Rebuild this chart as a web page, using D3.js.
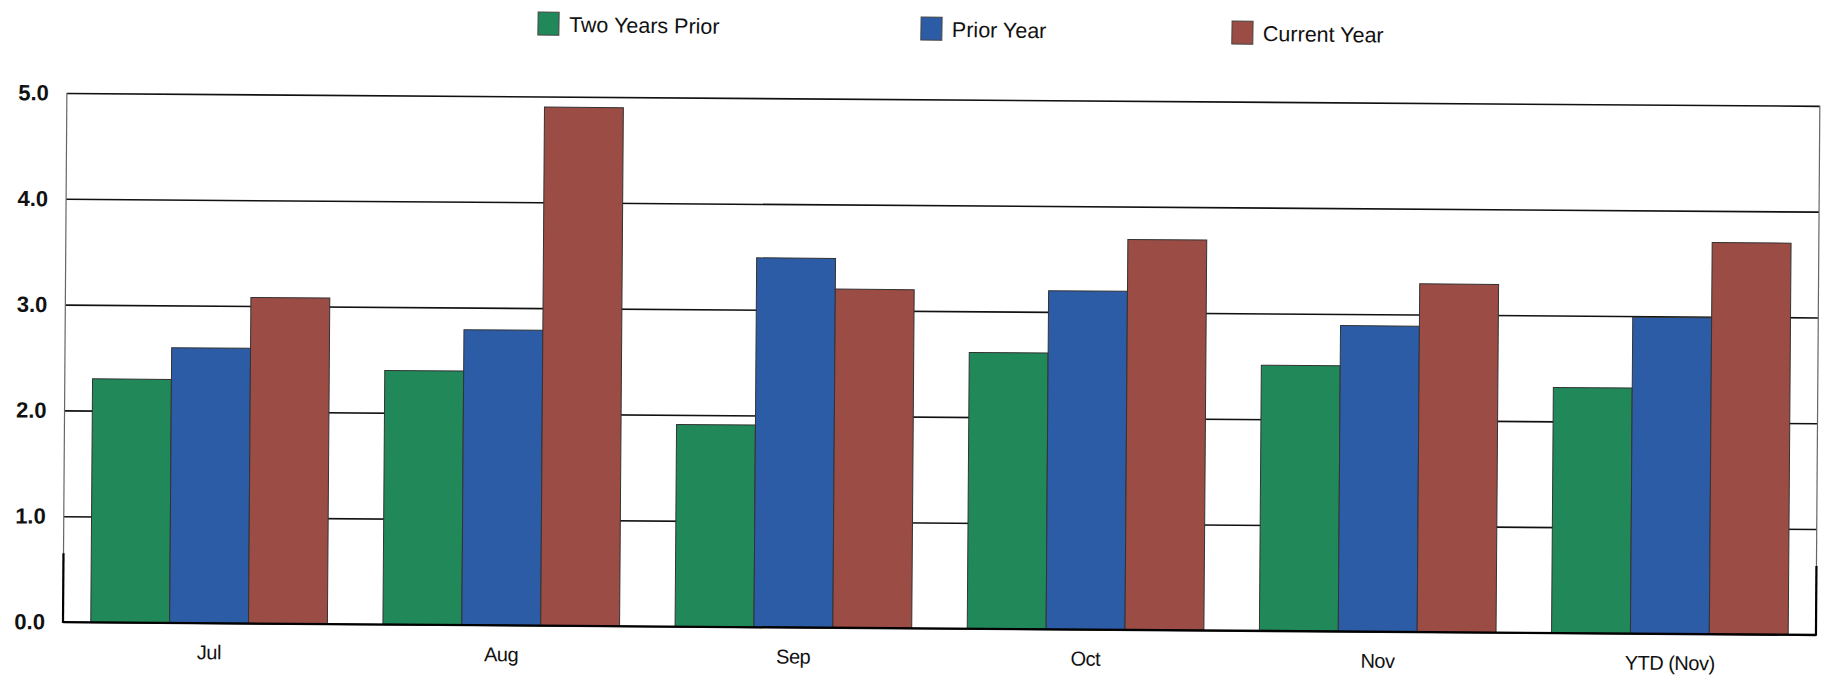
<!DOCTYPE html>
<html>
<head>
<meta charset="utf-8">
<script src="https://cdn.jsdelivr.net/npm/d3@7"></script>
<style>
  body { margin: 0; background: #fff; }
  svg { display: block; font-family: "Liberation Sans", Arial, sans-serif; }
</style>
</head>
<body>
<div id="chart"></div>
<script>
// values
const categories = ["Jul", "Aug", "Sep", "Oct", "Nov", "YTD (Nov)"];
const seriesNames = ["Two Years Prior", "Prior Year", "Current Year"];
const twoYearsPrior = [2.3, 2.4, 1.91, 2.61, 2.51, 2.32];
const priorYear = [2.6, 2.79, 3.49, 3.2, 2.89, 2.99];
const currentYear = [3.08, 4.9, 3.2, 3.69, 3.29, 3.7];
const yTicks = [0, 1, 2, 3, 4, 5];

const colors = ["#21885a", "#2d5ca6", "#9a4c45"];

const w = 1822;
const h = 677;
const plotLeft = 63;
const plotRight = 1816;
const plotTop = 93;
const plotBottom = 622;
const tilt = 0.42; // the scan is slightly rotated

const rows = categories.map((c, i) => ({
  cat: c,
  vals: [twoYearsPrior[i], priorYear[i], currentYear[i]],
}));

const svg = d3
  .select("#chart")
  .append("svg")
  .attr("width", w)
  .attr("height", h);

const g = svg
  .append("g")
  .attr("transform", "rotate(" + tilt + "," + plotLeft + "," + plotBottom + ")");

const x0 = d3
  .scaleBand()
  .domain(categories)
  .range([plotLeft, plotRight])
  .paddingInner(0.19)
  .paddingOuter(0.095);

const x1 = d3
  .scaleBand()
  .domain(d3.range(seriesNames.length))
  .range([0, x0.bandwidth()]);

const y = d3.scaleLinear().domain([0, 5]).range([plotBottom, plotTop]);

// gridlines + y labels
const yAxis = d3
  .axisLeft(y)
  .tickValues(yTicks)
  .tickFormat(d3.format(".1f"))
  .tickSize(-(plotRight - plotLeft))
  .tickPadding(18);

const yg = g
  .append("g")
  .attr("transform", "translate(" + plotLeft + ",0)")
  .call(yAxis);
yg.select(".domain").remove();
yg.selectAll(".tick line").attr("stroke", "#111").attr("stroke-width", 1.6);
yg.selectAll(".tick text")
  .attr("fill", "#111")
  .attr("font-size", 22)
  .attr("font-weight", "bold");

// frame sides
[plotLeft, plotRight].forEach((xx) => {
  g.append("line")
    .attr("x1", xx).attr("x2", xx)
    .attr("y1", y(5)).attr("y2", y(0))
    .attr("stroke", "#666").attr("stroke-width", 1.2);
  g.append("line")
    .attr("x1", xx).attr("x2", xx)
    .attr("y1", y(0.65)).attr("y2", y(0) + 1)
    .attr("stroke", "#000").attr("stroke-width", 2.2);
});

// bars
const groups = g
  .selectAll(".grp")
  .data(rows)
  .enter()
  .append("g")
  .attr("class", "grp")
  .attr("transform", (d) => "translate(" + x0(d.cat) + ",0)");

groups
  .selectAll("rect")
  .data((d) => d.vals)
  .enter()
  .append("rect")
  .attr("x", (d, i) => x1(i))
  .attr("y", (d) => y(d))
  .attr("width", x1.bandwidth())
  .attr("height", (d) => y(0) - y(d))
  .attr("fill", (d, i) => colors[i])
  .attr("stroke", "#333")
  .attr("stroke-width", 1);

// baseline
g.append("line")
  .attr("x1", plotLeft).attr("x2", plotRight)
  .attr("y1", y(0)).attr("y2", y(0))
  .attr("stroke", "#000").attr("stroke-width", 2);

// x labels
const xAxis = d3.axisBottom(x0).tickSize(0).tickPadding(22);
const xg = g
  .append("g")
  .attr("transform", "translate(0," + y(0) + ")")
  .call(xAxis);
xg.select(".domain").remove();
xg.selectAll(".tick text")
  .attr("fill", "#111")
  .attr("font-size", 20)
  .attr("letter-spacing", -0.5);

// legend
const legendX = [538, 921, 1232];
const legend = svg
  .append("g")
  .attr("transform", "rotate(0.75,538,23)");

const items = legend
  .selectAll(".item")
  .data(seriesNames)
  .enter()
  .append("g")
  .attr("class", "item")
  .attr("transform", (d, i) => "translate(" + legendX[i] + ",12)");

items
  .append("rect")
  .attr("width", 21)
  .attr("height", 23)
  .attr("fill", (d, i) => colors[i])
  .attr("stroke", "#444")
  .attr("stroke-width", 1);

items
  .append("text")
  .attr("x", 31)
  .attr("y", 12)
  .attr("dy", "0.35em")
  .attr("font-size", 21.5)
  .attr("fill", "#111")
  .text((d) => d);
</script>
</body>
</html>
